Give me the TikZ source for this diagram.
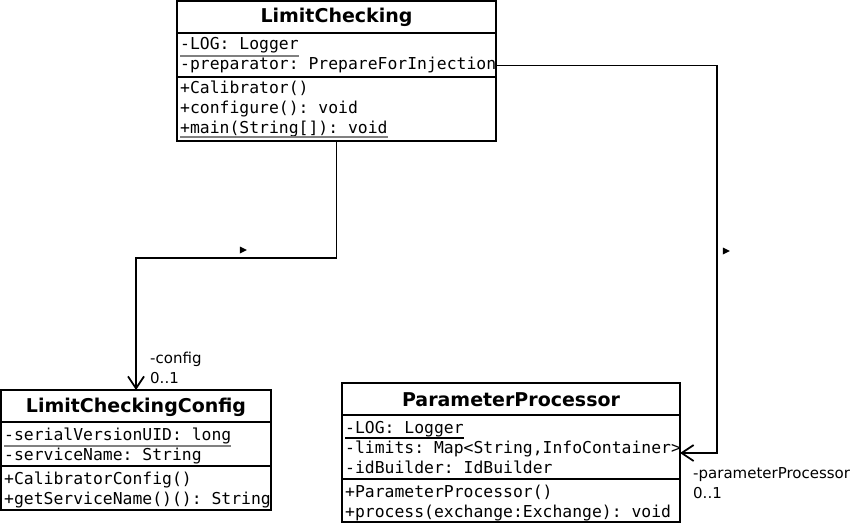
\documentclass[tikz,border=0pt]{standalone}
\usepackage{fontspec}
\setmainfont{DejaVu Sans}
\setmonofont{DejaVu Sans Mono}
\usetikzlibrary{arrows.meta,shapes.geometric}

\begin{document}
\begin{tikzpicture}[
    x=1pt, y=-1pt,
    part/.style={
        draw,
        line width=1.8pt,
        anchor=north west,
        inner sep=0pt,
        outer sep=0pt
    },
    classtitle/.style={
        part,
        minimum height=32pt
    },
    classname/.style={
        font=\bfseries\fontsize{19}{22}\selectfont,
        inner sep=0pt,
        anchor=base
    },
    member/.style={
        font=\ttfamily\fontsize{16.4}{19}\selectfont,
        inner sep=0pt,
        anchor=base west
    },
    rolelabel/.style={
        font=\fontsize{15}{18}\selectfont,
        inner sep=0pt,
        anchor=base west
    },
    static/.style={
        line width=1.2pt
    },
    assoc/.style={
        line width=1.8pt,
        -{Straight Barb[length=12pt,width=16pt,line width=1.8pt]}
    },
    dirmark/.style={
        isosceles triangle,
        isosceles triangle stretches,
        fill,
        inner sep=0pt,
        minimum height=7pt,
        minimum width=7pt
    }]

\useasboundingbox (0,0) rectangle (852,524);

% LimitChecking
\node[classtitle, minimum width=319pt] (lc) at (177,1)
{};
\node[classname] (lcname) at (336.5,23) {LimitChecking};
\node[part, minimum width=319pt, minimum height=44pt] (lcattr) at (lc.south west)
{};
\node[part, minimum width=319pt, minimum height=64pt] (lcmeth) at (lcattr.south west)
{};

\node[member] (lclog) at (180,50) {-LOG: Logger};
\node[member] (lcprep) at (180,70) {-preparator: PrepareForInjection};
\node[member] (lccal) at (180,94) {+Calibrator()};
\node[member] (lcconf) at (180,114) {+configure(): void};
\node[member] (lcmain) at (180,134) {+main(String[]): void};

\draw[static, gray] ([yshift=-6pt]lclog.base west) -- ([yshift=-6pt]lclog.base east);
\draw[static, gray] ([yshift=-3pt]lcmain.base west) -- ([yshift=-3pt]lcmain.base east);


% LimitCheckingConfig
\node[classtitle, minimum width=270pt] (lcc) at (1,390)
{};
\node[classname] (lccname) at (136,412) {LimitCheckingConfig};
\node[part, minimum width=270pt, minimum height=44pt] (lccattr) at (lcc.south west)
{};
\node[part, minimum width=270pt, minimum height=44pt] (lccmeth) at (lccattr.south west)
{};

\node[member] (lccuid) at (4,440) {-serialVersionUID: long};
\node[member] (lccsvc) at (4,460) {-serviceName: String};
\node[member] (lccinit) at (4,484) {+CalibratorConfig()};
\node[member] (lccget) at (4,504) {+getServiceName()(): String};

\draw[static, gray] ([yshift=-6pt]lccuid.base west) -- ([yshift=-6pt]lccuid.base east);


% ParameterProcessor
\node[classtitle, minimum width=338pt] (pp) at (342,383)
{};
\node[classname] (ppname) at (511,406) {ParameterProcessor};
\node[part, minimum width=338pt, minimum height=64pt] (ppattr) at (pp.south west)
{};
\node[part, minimum width=338pt, minimum height=43pt] (ppmeth) at (ppattr.south west)
{};

\node[member] (pplog) at (345,433) {-LOG: Logger};
\node[member] (pplim) at (345,453) {-limits: Map<String,InfoContainer>};
\node[member] (ppid) at (345,473) {-idBuilder: IdBuilder};
\node[member] (ppinit) at (345,497) {+ParameterProcessor()};
\node[member] (ppproc) at (345,517) {+process(exchange:Exchange): void};

\draw[static] ([yshift=-5pt]pplog.base west) -- ([yshift=-5pt]pplog.base east);


% Associaties
\coordinate (bend1) at (136,258);
\coordinate (bend2) at (717,453);

\draw[assoc]
(lcmeth.south)
|- (bend1)
-- (lcc.north);

\draw[assoc]
(lcprep.east -| lcattr.east)
-| (bend2)
-- (ppattr.east |- bend2);

\node[dirmark] (dir1) at (242,250) {};
\node[dirmark] (dir2) at (725,251) {};


% Rollen
\node[rolelabel] (cfgrole) at (150,363) {-config};
\node[rolelabel] (cfgmult) at (150,383) {0..1};

\node[rolelabel] (pprole) at (693,478) {-parameterProcessor};
\node[rolelabel] (ppmult) at (693,498) {0..1};

\end{tikzpicture}
\end{document}
